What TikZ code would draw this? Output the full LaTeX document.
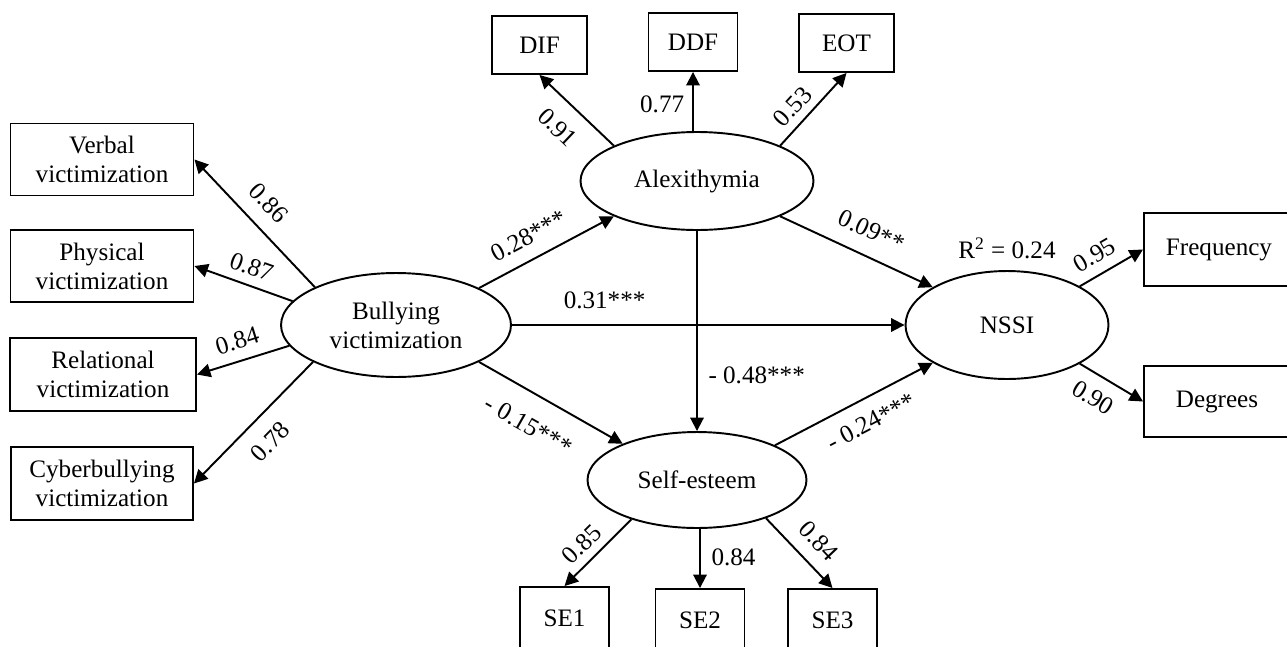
\documentclass[tikz,border=0pt]{standalone}
\usepackage{fontspec}
\setmainfont{Liberation Serif}
\usetikzlibrary{shapes.geometric,arrows.meta}

\tikzset{
  latent/.style={draw, ellipse, line width=1.1pt, inner sep=0pt, align=center},
  obs/.style={draw, rectangle, line width=1.1pt, inner sep=0pt, align=center},
  arr/.style={line width=1.1pt, -{Triangle[length=0.27cm,width=0.27cm]}},
  coef/.style={inner sep=0pt},
}

\begin{document}
\begin{tikzpicture}[x=0.02cm, y=-0.02cm, font=\fontsize{14.3}{16.5}\selectfont]
        \clip (0,0) rectangle (1287,646);
        % latent variables
        \node[latent, minimum width=4.6cm, minimum height=2.08cm] (bully) at (396,325) {Bullying\\victimization};
        \node[latent, minimum width=4.66cm, minimum height=1.96cm] (alex) at (697,181) {Alexithymia};
        \node[latent, minimum width=4.38cm, minimum height=1.92cm] (selfe) at (697,480) {Self-esteem};
        \node[latent, minimum width=4.06cm, minimum height=2.16cm] (nssi) at (1007,325) {NSSI};
        \node[coef, anchor=south, yshift=6pt] (r2) at (nssi.north) {R\textsuperscript{2} = 0.24};
        % indicators
        \node[obs, minimum width=3.66cm, minimum height=1.44cm] (verbal) at (102,159.5) {Verbal\\victimization};
        \node[obs, minimum width=3.66cm, minimum height=1.44cm] (physical) at (102,266) {Physical\\victimization};
        \node[obs, minimum width=3.72cm, minimum height=1.46cm] (relational) at (103,374.5) {Relational\\victimization};
        \node[obs, minimum width=3.64cm, minimum height=1.46cm] (cyber) at (102,483.5) {Cyberbullying\\victimization};
        \node[obs, minimum width=1.9cm, minimum height=1.16cm] (dif) at (539.5,45) {DIF};
        \node[obs, minimum width=1.78cm, minimum height=1.16cm] (ddf) at (693,42) {DDF};
        \node[obs, minimum width=1.9cm, minimum height=1.16cm] (eot) at (846.5,43) {EOT};
        \node[obs, minimum width=1.78cm, minimum height=1.24cm] (se1) at (564.5,618) {SE1};
        \node[obs, minimum width=1.78cm, minimum height=1.24cm] (se2) at (700,620) {SE2};
        \node[obs, minimum width=1.78cm, minimum height=1.24cm] (se3) at (832.5,620) {SE3};
        \node[obs, minimum width=3.0cm, minimum height=1.46cm] (freq) at (1219,249.5) {Frequency};
        \node[obs, minimum width=2.92cm, minimum height=1.42cm] (deg) at (1217,401.5) {Degrees};
        % loadings
        \draw[arr] (bully.155) -- node[coef, pos=.53, sloped, above=8.5pt] {0.86} (verbal.east);
        \draw[arr] (bully.167) -- node[coef, pos=.48, sloped, above=5pt] {0.87} (physical.east);
        \draw[arr] (bully.191.5) -- node[coef, pos=.5, sloped, above=6pt] {0.84} (relational.east);
        \draw[arr] (bully.204.6) -- node[coef, pos=.51, sloped, below=9pt] {0.78} (cyber.east);
        \draw[arr] (alex.157) -- node[coef, pos=.52, sloped, below=9pt] {0.91} (dif.south);
        \draw[arr] (alex.north -| ddf.south) -- node[coef, pos=.45, left=4.5pt] {0.77} (ddf.south);
        \draw[arr] (alex.23) -- node[coef, pos=.38, sloped, above=4.4pt] {0.53} (eot.south);
        \draw[arr] (selfe.211) -- node[coef, pos=.56, sloped, above=4.4pt] {0.85} (se1.north);
        \draw[arr] (selfe.south -| se2.north) -- node[coef, pos=.48, right=6pt] {0.84} (se2.north);
        \draw[arr] (selfe.-29) -- node[coef, pos=.55, sloped, above=7.4pt] {0.84} (se3.north);
        \draw[arr] (nssi.28) -- node[coef, pos=.39, sloped, above=5.7pt] {0.95} (freq.west);
        \draw[arr] (nssi.-28) -- node[coef, pos=.39, sloped, below=7.2pt] {0.90} (deg.west);
        % structural paths
        \draw[arr] (bully.24) -- node[coef, pos=.45, sloped, above=7.5pt] {0.28***} (alex.203);
        \draw[arr] (bully.east) -- node[coef, pos=.236, above=8.8pt] {0.31***} (nssi.west);
        \draw[arr] (bully.-24.5) -- node[coef, pos=.45, sloped, below=12pt] {- 0.15***} (selfe.154);
        \draw[arr] (alex.south) -- node[coef, pos=.72, right=6pt] {- 0.48***} (selfe.north);
        \draw[arr] (alex.-23) -- node[coef, pos=.53, sloped, above=9pt] {0.09**} (nssi.153);
        \draw[arr] (selfe.24) -- node[coef, pos=.54, sloped, below=8pt] {- 0.24***} (nssi.207);
    \end{tikzpicture}
\end{document}
